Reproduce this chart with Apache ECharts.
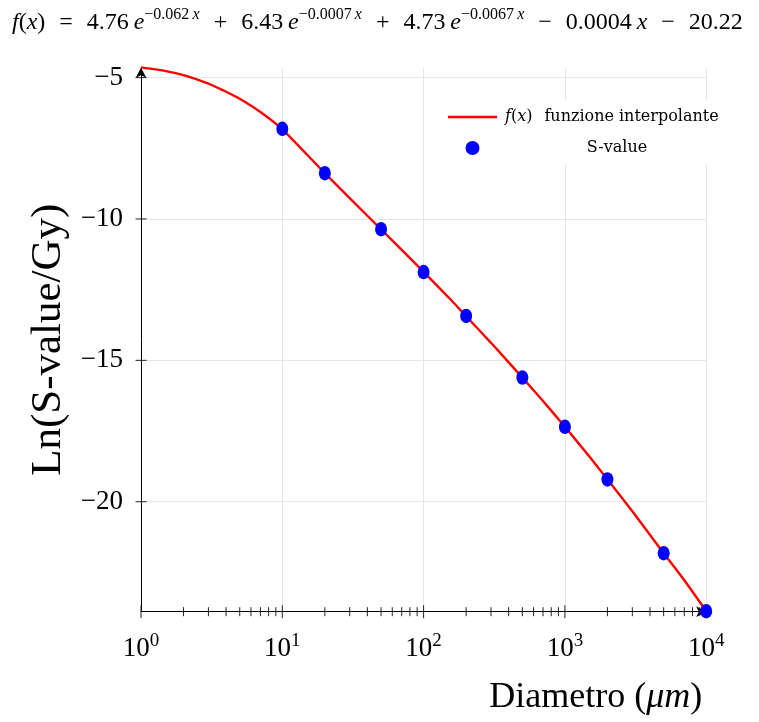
<!DOCTYPE html>
<html>
<head>
<meta charset="utf-8">
<script src="https://cdn.jsdelivr.net/npm/echarts@6/dist/echarts.min.js"></script>
<style>html,body{margin:0;padding:0;background:#fff;}#c{width:759px;height:722px;}</style>
</head>
<body>
<div id="c"></div>
<script>
// ---- data ----
const curveX = [1, 1.5, 2, 3, 4, 5, 7, 10, 15, 20, 30, 50, 70, 100, 150, 200, 300, 500, 700, 1000, 1500, 2000, 3000, 5000, 7000, 10000];
const curveY = [-4.64, -4.77, -4.91, -5.21, -5.50, -5.75, -6.22, -6.83, -7.73, -8.38, -9.26, -10.37, -11.09, -11.87, -12.77, -13.44, -14.38, -15.61, -16.44, -17.35, -18.42, -19.21, -20.34, -21.82, -22.78, -23.87];
const pointX = [10, 20, 50, 100, 200, 500, 1000, 2000, 5000, 10000];
const pointY = [-6.81, -8.38, -10.36, -11.88, -13.43, -15.61, -17.35, -19.21, -21.82, -23.87];
const xMajorTicks = [1, 10, 100, 1000];
const xMinorTicks = [2, 3, 4, 5, 6, 7, 8, 9, 20, 30, 40, 50, 60, 70, 80, 90, 200, 300, 400, 500, 600, 700, 800, 900, 2000, 3000, 4000, 5000, 6000, 7000, 8000, 9000];
const yTicks = [-20, -15, -10, -5];
const X_MIN = 1, X_MAX = 10000, Y_MIN = -23.89, Y_MAX = -4.65;
const lineName = 'f(x) funzione interpolante';
const pointName = 'S-value';

const SERIF = 'Liberation Serif';
const LEG = 'DejaVu Serif';
const OP = '\u2002\u200A'; // math spacing around operators

function tickSeries(data, orient, half) {
  return {
    type: 'custom', silent: true, clip: false, z: 5,
    data: data,
    renderItem: function (params, api) {
      const p = api.coord([api.value(0), api.value(1)]);
      const shape = orient === 'v'
        ? { x1: p[0], y1: p[1] - half, x2: p[0], y2: p[1] + half }
        : { x1: p[0] - half, y1: p[1], x2: p[0] + half, y2: p[1] };
      return { type: 'line', shape: shape, style: { stroke: '#222', lineWidth: 1 } };
    }
  };
}

const titleText =
  '{i|f}{n|(}{i|x}{n|)' + OP + '=' + OP + '4.76\u2009}{i|e}{sn|−0.062\u2009}{si|x}' +
  '{n|' + OP + '+' + OP + '6.43\u2009}{i|e}{sn|−0.0007\u2009}{si|x}' +
  '{n|' + OP + '+' + OP + '4.73\u2009}{i|e}{sn|−0.0067\u2009}{si|x}' +
  '{n|' + OP + '−' + OP + '0.0004\u2009}{i|x}{n|' + OP + '−' + OP + '20.22}';

const chart = echarts.init(document.getElementById('c'), null, { renderer: 'canvas' });
const option = {
  animation: false,
  backgroundColor: '#fff',
  title: {
    left: 12, top: 7, padding: 0,
    text: titleText,
    textStyle: {
      fontWeight: 'normal',
      rich: {
        n: { fontFamily: SERIF, fontSize: 24, fontWeight: 'normal', color: '#000' },
        i: { fontFamily: SERIF, fontSize: 24, fontWeight: 'normal', fontStyle: 'italic', color: '#000' },
        sn: { fontFamily: SERIF, fontSize: 16, fontWeight: 'normal', color: '#000', padding: [0, 0, 16, 0] },
        si: { fontFamily: SERIF, fontSize: 16, fontWeight: 'normal', fontStyle: 'italic', color: '#000', padding: [0, 0, 16, 0] }
      }
    }
  },
  legend: {
    orient: 'vertical',
    left: 440, top: 101,
    padding: [8, 8, 8, 8],
    backgroundColor: '#fff',
    itemWidth: 49, itemHeight: 14, itemGap: 15,
    data: [
      { name: lineName, icon: 'path://M0,0 L49,0 L49,2.4 L0,2.4 Z' },
      { name: pointName, icon: 'circle' }
    ],
    formatter: function (name) {
      if (name === lineName) return '{f|f}{n|(}{i|x}{n|)\u2002\u2005funzione interpolante}';
      return '{c|S-value}';
    },
    textStyle: {
      lineHeight: 16,
      rich: {
        n: { fontFamily: LEG, fontSize: 16, color: '#000', lineHeight: 16 },
        f: { fontFamily: LEG, fontSize: 16, fontStyle: 'italic', color: '#000', lineHeight: 16, padding: [0, 0, 0, 3] },
        i: { fontFamily: LEG, fontSize: 16, fontStyle: 'italic', color: '#000', lineHeight: 16 },
        c: { fontFamily: LEG, fontSize: 16, color: '#000', lineHeight: 16, width: 230, align: 'center' }
      }
    }
  },
  grid: { left: 141, top: 67.7, width: 565.2, height: 544 },
  xAxis: {
    type: 'log', logBase: 10, min: X_MIN, max: X_MAX,
    name: '{n|Diametro (}{i|μm}{n|)}',
    nameLocation: 'end', nameGap: -4,
    nameTextStyle: {
      align: 'right', verticalAlign: 'top', padding: [66, 0, 0, 0],
      rich: {
        n: { fontFamily: SERIF, fontSize: 36, color: '#000', lineHeight: 40 },
        i: { fontFamily: SERIF, fontSize: 36, fontStyle: 'italic', color: '#000', lineHeight: 40 }
      }
    },
    axisLine: { show: true, symbol: ['none', 'arrow'], symbolSize: [8, 10], lineStyle: { color: '#000', width: 1 } },
    axisTick: { show: false },
    minorTick: { show: false },
    axisLabel: {
      margin: 20,
      formatter: function (v) { return '{b|10}{s|' + Math.round(Math.log10(v)) + '}'; },
      rich: {
        b: { fontFamily: SERIF, fontSize: 27, color: '#000' },
        s: { fontFamily: SERIF, fontSize: 19, color: '#000', padding: [0, 0, 16, 0] }
      }
    },
    splitLine: { show: true, showMinLine: false, showMaxLine: true, lineStyle: { color: '#e6e6e6', width: 1 } }
  },
  yAxis: {
    type: 'value', min: Y_MIN, max: Y_MAX, splitNumber: 4,
    name: 'Ln(S-value/Gy)',
    nameLocation: 'middle', nameGap: 68,
    nameTextStyle: { fontFamily: SERIF, fontSize: 43, color: '#000' },
    axisLine: { show: true, symbol: ['none', 'arrow'], symbolSize: [8, 10], lineStyle: { color: '#000', width: 1 } },
    axisTick: { show: false },
    axisLabel: {
      margin: 18, showMinLabel: false, showMaxLabel: false,
      fontFamily: SERIF, fontSize: 27, color: '#000',
      formatter: function (v) { return String(v).replace('-', '−'); }
    },
    splitLine: { show: true, showMinLine: false, showMaxLine: false, lineStyle: { color: '#e6e6e6', width: 1 } }
  },
  series: [
    {
      name: lineName, type: 'line', symbol: 'none', smooth: 0.2, clip: false, z: 3,
      data: curveX.map(function (x, i) { return [x, curveY[i]]; }),
      lineStyle: { color: '#ff0000', width: 2.4 },
      itemStyle: { color: '#ff0000' }
    },
    {
      name: pointName, type: 'scatter', clip: false, z: 4,
      symbol: 'path://M0,7 A6,7 0 1 1 12,7 A6,7 0 1 1 0,7 Z',
      symbolSize: [12, 14.5],
      data: pointX.map(function (x, i) { return [x, pointY[i]]; }),
      itemStyle: { color: '#0000ff', opacity: 1 }
    },
    tickSeries(xMinorTicks.map(function (v) { return [v, Y_MIN]; }), 'v', 4.5),
    tickSeries(xMajorTicks.map(function (v) { return [v, Y_MIN]; }), 'v', 6.5),
    tickSeries(yTicks.map(function (v) { return [X_MIN, v]; }), 'h', 5.5)
  ]
};
chart.setOption(option);
</script>
</body>
</html>
